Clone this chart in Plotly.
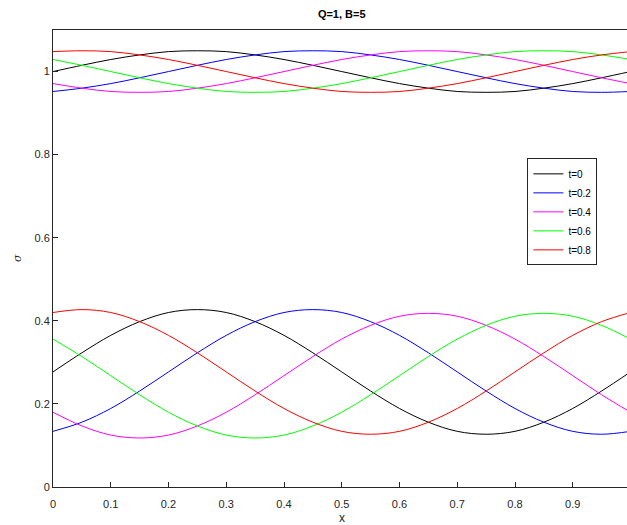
import plotly.graph_objects as go

x = [round(0.05 * k, 2) for k in range(21)]

labels = ["t=0", "t=0.2", "t=0.4", "t=0.6", "t=0.8"]
colors = ["#000000", "#0000ff", "#ff00ff", "#00ff00", "#ff0000"]

upper_t0 = [1.000, 1.015, 1.029, 1.040, 1.048, 1.050, 1.048, 1.040, 1.029, 1.015, 1.000,
            0.985, 0.971, 0.960, 0.952, 0.950, 0.952, 0.960, 0.971, 0.985, 1.000]
upper_t02 = [0.952, 0.960, 0.971, 0.985, 1.000, 1.015, 1.029, 1.040, 1.048, 1.050, 1.048,
             1.040, 1.029, 1.015, 1.000, 0.985, 0.971, 0.960, 0.952, 0.950, 0.952]
upper_t04 = [0.971, 0.960, 0.952, 0.950, 0.952, 0.960, 0.971, 0.985, 1.000, 1.015, 1.029,
             1.040, 1.048, 1.050, 1.048, 1.040, 1.029, 1.015, 1.000, 0.985, 0.971]
upper_t06 = [1.029, 1.015, 1.000, 0.985, 0.971, 0.960, 0.952, 0.950, 0.952, 0.960, 0.971,
             0.985, 1.000, 1.015, 1.029, 1.040, 1.048, 1.050, 1.048, 1.040, 1.029]
upper_t08 = [1.048, 1.050, 1.048, 1.040, 1.029, 1.015, 1.000, 0.985, 0.971, 0.960, 0.952,
             0.950, 0.952, 0.960, 0.971, 0.985, 1.000, 1.015, 1.029, 1.040, 1.048]

lower_t0 = [0.277, 0.323, 0.365, 0.398, 0.420, 0.427, 0.420, 0.398, 0.365, 0.323, 0.277,
            0.231, 0.189, 0.156, 0.134, 0.127, 0.134, 0.156, 0.189, 0.231, 0.277]
lower_t02 = [0.134, 0.156, 0.189, 0.231, 0.277, 0.323, 0.365, 0.398, 0.420, 0.427, 0.420,
             0.398, 0.365, 0.323, 0.277, 0.231, 0.189, 0.156, 0.134, 0.127, 0.134]
lower_t04 = [0.180, 0.147, 0.125, 0.118, 0.125, 0.147, 0.180, 0.222, 0.268, 0.314, 0.356,
             0.389, 0.411, 0.418, 0.411, 0.389, 0.356, 0.314, 0.268, 0.222, 0.180]
lower_t06 = [0.356, 0.314, 0.268, 0.222, 0.180, 0.147, 0.125, 0.118, 0.125, 0.147, 0.180,
             0.222, 0.268, 0.314, 0.356, 0.389, 0.411, 0.418, 0.411, 0.389, 0.356]
lower_t08 = [0.420, 0.427, 0.420, 0.398, 0.365, 0.323, 0.277, 0.231, 0.189, 0.156, 0.134,
             0.127, 0.134, 0.156, 0.189, 0.231, 0.277, 0.323, 0.365, 0.398, 0.420]

upper = [upper_t0, upper_t02, upper_t04, upper_t06, upper_t08]
lower = [lower_t0, lower_t02, lower_t04, lower_t06, lower_t08]

xticks = [0, 0.1, 0.2, 0.3, 0.4, 0.5, 0.6, 0.7, 0.8, 0.9]
xticklabels = ["0", "0.1", "0.2", "0.3", "0.4", "0.5", "0.6", "0.7", "0.8", "0.9"]
yticks = [0, 0.2, 0.4, 0.6, 0.8, 1]
yticklabels = ["0", "0.2", "0.4", "0.6", "0.8", "1"]

FONT = "Liberation Sans, Arial, sans-serif"
AX = "#262626"

fig = go.Figure()
for lab, col, up, lo in zip(labels, colors, upper, lower):
    fig.add_trace(go.Scatter(x=x, y=up, mode="lines", name=lab, legendgroup=lab,
                             line=dict(color=col, width=1, shape="spline"), showlegend=True))
    fig.add_trace(go.Scatter(x=x, y=lo, mode="lines", name=lab, legendgroup=lab,
                             line=dict(color=col, width=1, shape="spline"), showlegend=False))

L, T, B = 52.5, 29.5, 38
W, H = 627, 525
pw = W - L
ph = H - T - B

fig.update_layout(
    width=W, height=H,
    margin=dict(l=L, r=0, t=T, b=B, pad=0),
    paper_bgcolor="white", plot_bgcolor="white",
    font=dict(family=FONT, size=11, color=AX),
    title=dict(text="<b>Q=1, B=5</b>", x=(341.5 - L) / pw, xref="paper", xanchor="center",
               y=1 - 14 / H, yref="container", yanchor="middle",
               font=dict(family=FONT, size=11, color="#000000")),
    legend=dict(x=(527.3 - L) / pw, y=(H - B - 158) / ph, xanchor="left", yanchor="top",
                bgcolor="white", bordercolor=AX, borderwidth=1,
                font=dict(family=FONT, size=10, color="#000000"),
                tracegroupgap=0, itemwidth=30),
    xaxis=dict(range=[0, (W - L) / 578.0], tickmode="array", tickvals=xticks, ticktext=xticklabels,
               ticks="inside", ticklen=5, tickcolor=AX, showline=True, linecolor=AX, linewidth=1,
               mirror=True, showgrid=False, zeroline=False, ticklabelstandoff=7,
               tickfont=dict(size=11, color=AX)),
    yaxis=dict(range=[0, 1.1], tickmode="array", tickvals=yticks, ticktext=yticklabels,
               ticks="inside", ticklen=5, tickcolor=AX, showline=True, linecolor=AX, linewidth=1,
               mirror=False, showgrid=False, zeroline=False, tickfont=dict(size=11, color=AX)),
    annotations=[
        dict(text="x", x=(341.5 - L) / pw, y=-(518 - (H - B)) / ph, xref="paper", yref="paper",
             xanchor="center", yanchor="middle", showarrow=False,
             font=dict(family=FONT, size=12, color=AX)),
        dict(text="<i>σ</i>", x=(17 - L) / pw, y=0.5, xref="paper", yref="paper",
             xanchor="center", yanchor="middle", showarrow=False, textangle=-90,
             font=dict(family="DejaVu Serif, serif", size=11, color=AX)),
    ],
)

fig.write_html("out.html")
